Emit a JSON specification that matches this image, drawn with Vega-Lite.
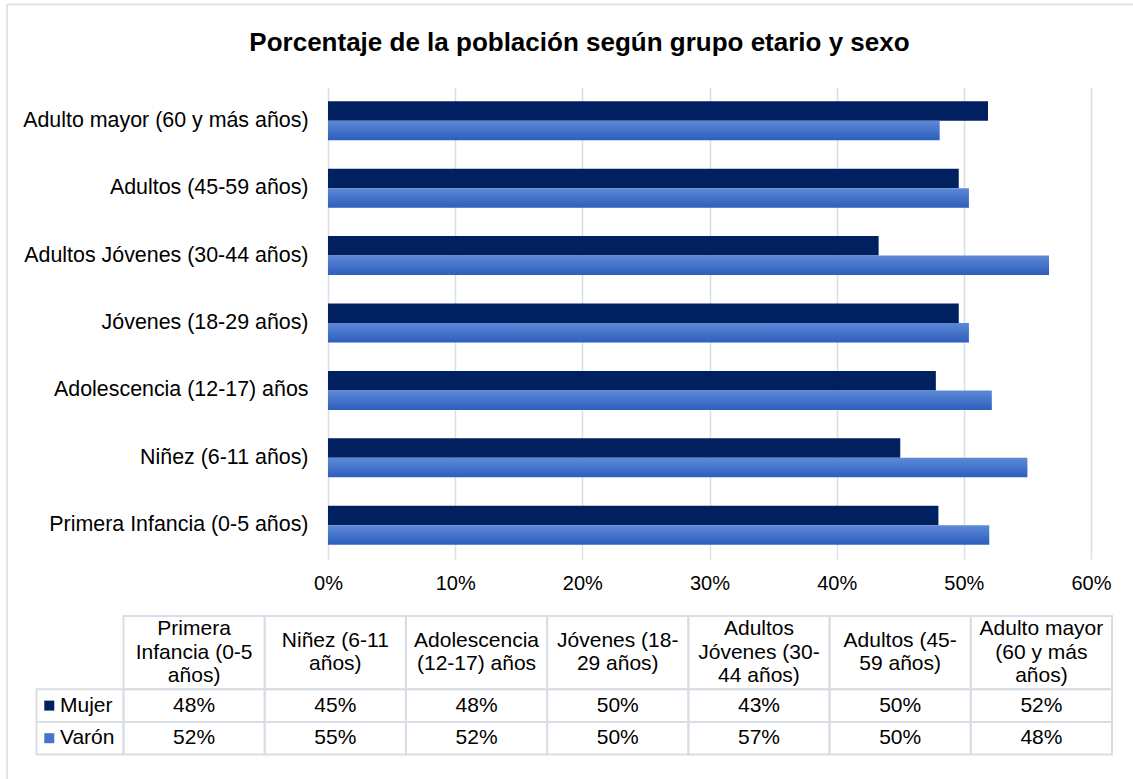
{
  "$schema": "https://vega.github.io/schema/vega-lite/v6.json",
  "width": 763,
  "height": 472,
  "autosize": "none",
  "padding": {"left": 328, "top": 87, "right": 42, "bottom": 220},
  "background": "white",
  "config": {"font": "Liberation Sans", "view": {"stroke": null}},
  "title": {
    "text": "Porcentaje de la población según grupo etario y sexo",
    "font": "Liberation Sans",
    "fontSize": 26,
    "fontWeight": "bold",
    "color": "#000000",
    "anchor": "middle",
    "frame": "group",
    "dx": -130,
    "offset": -52
  },
  "datasets": {
    "d": [
      {"grupo": "Primera Infancia (0-5 años)", "encabezado": "Primera\nInfancia (0-5\naños)", "sexo": "Mujer", "valor": 0.480},
      {"grupo": "Primera Infancia (0-5 años)", "encabezado": "Primera\nInfancia (0-5\naños)", "sexo": "Varón", "valor": 0.520},
      {"grupo": "Niñez (6-11 años)", "encabezado": "Niñez (6-11\naños)", "sexo": "Mujer", "valor": 0.450},
      {"grupo": "Niñez (6-11 años)", "encabezado": "Niñez (6-11\naños)", "sexo": "Varón", "valor": 0.550},
      {"grupo": "Adolescencia (12-17) años", "encabezado": "Adolescencia\n(12-17) años", "sexo": "Mujer", "valor": 0.478},
      {"grupo": "Adolescencia (12-17) años", "encabezado": "Adolescencia\n(12-17) años", "sexo": "Varón", "valor": 0.522},
      {"grupo": "Jóvenes (18-29 años)", "encabezado": "Jóvenes (18-\n29 años)", "sexo": "Mujer", "valor": 0.496},
      {"grupo": "Jóvenes (18-29 años)", "encabezado": "Jóvenes (18-\n29 años)", "sexo": "Varón", "valor": 0.504},
      {"grupo": "Adultos Jóvenes (30-44 años)", "encabezado": "Adultos\nJóvenes (30-\n44 años)", "sexo": "Mujer", "valor": 0.433},
      {"grupo": "Adultos Jóvenes (30-44 años)", "encabezado": "Adultos\nJóvenes (30-\n44 años)", "sexo": "Varón", "valor": 0.567},
      {"grupo": "Adultos (45-59 años)", "encabezado": "Adultos (45-\n59 años)", "sexo": "Mujer", "valor": 0.496},
      {"grupo": "Adultos (45-59 años)", "encabezado": "Adultos (45-\n59 años)", "sexo": "Varón", "valor": 0.504},
      {"grupo": "Adulto mayor (60 y más años)", "encabezado": "Adulto mayor\n(60 y más\naños)", "sexo": "Mujer", "valor": 0.519},
      {"grupo": "Adulto mayor (60 y más años)", "encabezado": "Adulto mayor\n(60 y más\naños)", "sexo": "Varón", "valor": 0.481}
    ],
    "uno": [{"k": 1}]
  },
  "layer": [
    {
      "data": {"name": "uno"},
      "mark": {"type": "rect", "fillOpacity": 0, "stroke": "#D9DEE6", "strokeWidth": 1.5},
      "encoding": {
        "x": {"datum": 0, "type": "quantitative", "scale": {"domain": [0, 1], "range": [-321, 812], "nice": false, "zero": false}, "axis": null},
        "x2": {"datum": 1},
        "y": {"datum": 0, "type": "quantitative", "scale": {"domain": [0, 1], "range": [-82.5, 703], "nice": false, "zero": false}, "axis": null},
        "y2": {"datum": 1}
      }
    },
    {
      "data": {"name": "d"},
      "encoding": {
        "x": {
          "field": "valor", "type": "quantitative",
          "scale": {"domain": [0, 0.6], "nice": false},
          "axis": {
            "values": [0, 0.1, 0.2, 0.3, 0.4, 0.5, 0.6],
            "format": ".0%",
            "title": null,
            "domain": false,
            "ticks": false,
            "grid": true,
            "gridColor": "#D9DEE6",
            "gridWidth": 1.5,
            "labelFlush": false,
            "labelFont": "Liberation Sans",
            "labelFontSize": 20,
            "labelColor": "#000000",
            "labelPadding": 14
          }
        },
        "y": {
          "field": "grupo", "type": "nominal",
          "sort": ["Adulto mayor (60 y más años)", "Adultos (45-59 años)", "Adultos Jóvenes (30-44 años)", "Jóvenes (18-29 años)", "Adolescencia (12-17) años", "Niñez (6-11 años)", "Primera Infancia (0-5 años)"],
          "scale": {"paddingInner": 0.422, "paddingOuter": 0.211},
          "axis": {
            "title": null,
            "domain": false,
            "ticks": false,
            "grid": false,
            "labelFont": "Liberation Sans",
            "labelFontSize": 21.4,
            "labelColor": "#000000",
            "labelPadding": 20,
            "labelLimit": 400
          }
        },
        "yOffset": {"field": "sexo", "type": "nominal", "scale": {"domain": ["Mujer", "Varón"], "paddingInner": 0, "paddingOuter": 0}}
      },
      "layer": [
        {
          "transform": [{"filter": "datum.sexo === 'Mujer'"}],
          "mark": {"type": "bar", "color": "#002060"}
        },
        {
          "transform": [{"filter": "datum.sexo === 'Varón'"}],
          "mark": {
            "type": "bar",
            "color": {"gradient": "linear", "x1": 0, "y1": 0, "x2": 0, "y2": 1,
              "stops": [{"offset": 0, "color": "#5E89D7"}, {"offset": 1, "color": "#2C5EBC"}]}
          }
        }
      ]
    },
    {
      "data": {"name": "d"},
      "transform": [{"filter": "datum.sexo === 'Mujer'"}],
      "mark": {"type": "rect", "fillOpacity": 0, "stroke": "#D9DEE6", "strokeWidth": 2},
      "encoding": {
        "x": {"field": "grupo", "type": "nominal", "sort": null, "scale": {"type": "band", "range": [-204.5, 784], "paddingInner": 0, "paddingOuter": 0}, "axis": null},
        "y": {"datum": "enc", "type": "nominal", "scale": {"type": "band", "domain": ["enc"], "range": [529, 602.3], "paddingInner": 0, "paddingOuter": 0}, "axis": null}
      }
    },
    {
      "data": {"name": "d"},
      "transform": [{"filter": "datum.sexo === 'Mujer' && split(datum.encabezado, '\\n').length === 3"}],
      "mark": {"type": "text", "fontSize": 21, "lineBreak": "\n", "lineHeight": 23.5, "baseline": "middle", "align": "center", "color": "#000000", "dy": -23.5},
      "encoding": {
        "x": {"field": "grupo", "type": "nominal", "scale": {"type": "band", "domain": ["Primera Infancia (0-5 años)", "Niñez (6-11 años)", "Adolescencia (12-17) años", "Jóvenes (18-29 años)", "Adultos Jóvenes (30-44 años)", "Adultos (45-59 años)", "Adulto mayor (60 y más años)"], "range": [-204.5, 784], "paddingInner": 0, "paddingOuter": 0}, "axis": null},
        "y": {"datum": "enc", "type": "nominal", "scale": {"type": "band", "domain": ["enc"], "range": [529, 602.3], "paddingInner": 0, "paddingOuter": 0}, "axis": null},
        "text": {"field": "encabezado"}
      }
    },
    {
      "data": {"name": "d"},
      "transform": [{"filter": "datum.sexo === 'Mujer' && split(datum.encabezado, '\\n').length === 2"}],
      "mark": {"type": "text", "fontSize": 21, "lineBreak": "\n", "lineHeight": 23.5, "baseline": "middle", "align": "center", "color": "#000000", "dy": -11.75},
      "encoding": {
        "x": {"field": "grupo", "type": "nominal", "scale": {"type": "band", "domain": ["Primera Infancia (0-5 años)", "Niñez (6-11 años)", "Adolescencia (12-17) años", "Jóvenes (18-29 años)", "Adultos Jóvenes (30-44 años)", "Adultos (45-59 años)", "Adulto mayor (60 y más años)"], "range": [-204.5, 784], "paddingInner": 0, "paddingOuter": 0}, "axis": null},
        "y": {"datum": "enc", "type": "nominal", "scale": {"type": "band", "domain": ["enc"], "range": [529, 602.3], "paddingInner": 0, "paddingOuter": 0}, "axis": null},
        "text": {"field": "encabezado"}
      }
    },
    {
      "data": {"name": "d"},
      "mark": {"type": "rect", "fillOpacity": 0, "stroke": "#D9DEE6", "strokeWidth": 2},
      "encoding": {
        "x": {"field": "grupo", "type": "nominal", "sort": null, "scale": {"type": "band", "range": [-204.5, 784], "paddingInner": 0, "paddingOuter": 0}, "axis": null},
        "y": {"field": "sexo", "type": "nominal", "scale": {"type": "band", "domain": ["Mujer", "Varón"], "range": [602.3, 667.5], "paddingInner": 0, "paddingOuter": 0}, "axis": null}
      }
    },
    {
      "data": {"name": "d"},
      "mark": {"type": "text", "fontSize": 21, "baseline": "middle", "align": "center", "color": "#000000"},
      "encoding": {
        "x": {"field": "grupo", "type": "nominal", "sort": null, "scale": {"type": "band", "range": [-204.5, 784], "paddingInner": 0, "paddingOuter": 0}, "axis": null},
        "y": {"field": "sexo", "type": "nominal", "scale": {"type": "band", "domain": ["Mujer", "Varón"], "range": [602.3, 667.5], "paddingInner": 0, "paddingOuter": 0}, "axis": null},
        "text": {"field": "valor", "format": ".0%"}
      }
    },
    {
      "data": {"name": "d"},
      "transform": [{"filter": "datum.grupo === 'Primera Infancia (0-5 años)'"}],
      "mark": {"type": "rect", "fillOpacity": 0, "stroke": "#D9DEE6", "strokeWidth": 2},
      "encoding": {
        "x": {"datum": "ley", "type": "nominal", "scale": {"type": "band", "domain": ["ley"], "range": [-291.5, -204.5], "paddingInner": 0, "paddingOuter": 0}, "axis": null},
        "y": {"field": "sexo", "type": "nominal", "scale": {"type": "band", "domain": ["Mujer", "Varón"], "range": [602.3, 667.5], "paddingInner": 0, "paddingOuter": 0}, "axis": null}
      }
    },
    {
      "data": {"name": "d"},
      "transform": [{"filter": "datum.grupo === 'Primera Infancia (0-5 años)'"}],
      "mark": {"type": "square", "size": 100, "opacity": 1, "filled": true},
      "encoding": {
        "x": {"datum": "ley", "type": "nominal", "bandPosition": 0.147, "scale": {"type": "band", "domain": ["ley"], "range": [-291.5, -204.5], "paddingInner": 0, "paddingOuter": 0}, "axis": null},
        "y": {"field": "sexo", "type": "nominal", "scale": {"type": "band", "domain": ["Mujer", "Varón"], "range": [602.3, 667.5], "paddingInner": 0, "paddingOuter": 0}, "axis": null},
        "color": {"field": "sexo", "type": "nominal", "scale": {"domain": ["Mujer", "Varón"], "range": ["#002060", "#4774C8"]}, "legend": null}
      }
    },
    {
      "data": {"name": "d"},
      "transform": [{"filter": "datum.grupo === 'Primera Infancia (0-5 años)'"}],
      "mark": {"type": "text", "fontSize": 21, "baseline": "middle", "align": "left", "color": "#000000"},
      "encoding": {
        "x": {"datum": "ley", "type": "nominal", "bandPosition": 0.27, "scale": {"type": "band", "domain": ["ley"], "range": [-291.5, -204.5], "paddingInner": 0, "paddingOuter": 0}, "axis": null},
        "y": {"field": "sexo", "type": "nominal", "scale": {"type": "band", "domain": ["Mujer", "Varón"], "range": [602.3, 667.5], "paddingInner": 0, "paddingOuter": 0}, "axis": null},
        "text": {"field": "sexo"}
      }
    }
  ],
  "resolve": {
    "scale": {"x": "independent", "y": "independent", "color": "independent"},
    "axis": {"x": "independent", "y": "independent"}
  }
}
